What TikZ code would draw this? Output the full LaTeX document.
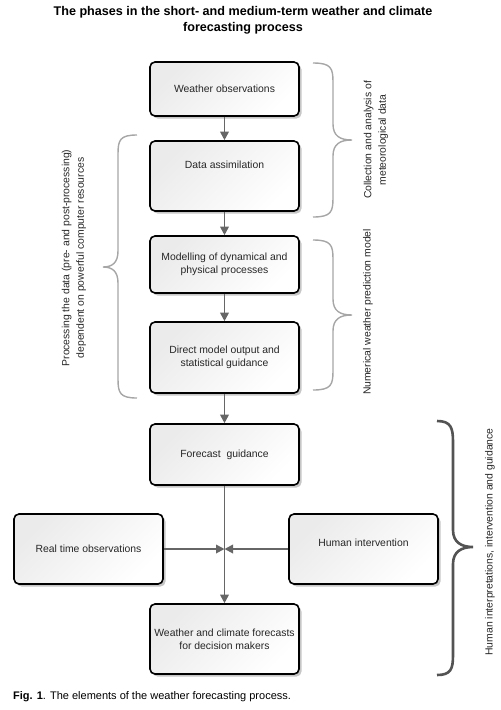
\documentclass[tikz,border=0pt]{standalone}
\usepackage{fontspec}
\setmainfont{Liberation Sans}
\usetikzlibrary{arrows.meta,shadows}
\begin{document}
\begin{tikzpicture}[x=1pt,y=-1pt,
  box/.style={draw=black, line width=1.6pt, rounded corners=5pt,
    top color=gray!16, bottom color=white, shading angle=45,
    minimum width=149pt, align=center, font=\fontsize{10.4}{13.2}\selectfont, text=black!85,
    drop shadow={shadow xshift=2.5pt, shadow yshift=-2.5pt, fill=gray!45, opacity=1}},
  txt/.style={align=center, font=\fontsize{10.4}{13.2}\selectfont, text=black!85},
  arr/.style={draw=gray!80!black, line width=1.8pt, -{Triangle[length=8.5pt,width=8.5pt]}},
  brace/.style={draw=gray!70, line width=1.4pt},
  bracethick/.style={draw=gray!65!black, line width=2.6pt},
  side/.style={rotate=90, align=center, font=\fontsize{10.4}{14.5}\selectfont, text=black!85}
]
\useasboundingbox (0,0) rectangle (501,710);

% title
\node[align=center, font=\bfseries\fontsize{12.6}{16}\selectfont] (title) at (243,20)
  {The phases in the short- and medium-term weather and climate\\forecasting process};

% boxes
\node[box, minimum height=54pt] (obs) at (224.5,89) {Weather observations};
\node[box, minimum height=70pt] (assim) at (224.5,176) {};
\node[txt] (assimtxt) at ([yshift=11pt]assim.center) {Data assimilation};
\node[box, minimum height=57pt] (model) at (224.5,264.5) {Modelling of dynamical and\\physical processes};
\node[box, minimum height=71pt] (direct) at (224.5,357.5) {Direct model output and\\statistical guidance};
\node[box, minimum height=61pt] (guide) at (224.5,454.5) {Forecast\ \ guidance};
\node[box, minimum height=70pt] (real) at (88.5,549) {Real time observations};
\node[box, minimum height=70pt] (human) at (363.5,549) {};
\node[txt] (humantxt) at ([yshift=6pt]human.center) {Human intervention};
\node[box, minimum height=70pt] (final) at (224.5,639) {Weather and climate forecasts\\for decision makers};
\coordinate (j) at (224.5,549);

% connectors
\draw[arr] (obs) -- (assim);
\draw[arr] (assim) -- (model);
\draw[arr] (model) -- (direct);
\draw[arr] (direct) -- (guide);
\draw[arr] (guide) -- (final);
\draw[arr] (real) -- (j);
\draw[arr] (human) -- (j);

% braces
\draw[brace] (313,63) .. controls (331,63) and (333,68) .. (333,82) -- (333,124)
  .. controls (333,136) and (340,140) .. (352,140)
  .. controls (340,140) and (333,144) .. (333,156) -- (333,198)
  .. controls (333,212) and (331,217) .. (313,217);
\draw[brace] (313,240) .. controls (331,240) and (333,245) .. (333,259) -- (333,299)
  .. controls (333,311) and (340,315) .. (352,315)
  .. controls (340,315) and (333,319) .. (333,331) -- (333,371)
  .. controls (333,385) and (331,390) .. (313,390);
\draw[brace] (137,135) .. controls (120,135) and (118,140) .. (118,154) -- (118,251)
  .. controls (118,263) and (112,267) .. (103,267)
  .. controls (112,267) and (118,271) .. (118,283) -- (118,379)
  .. controls (118,393) and (120,398) .. (137,398);
\draw[bracethick] (437,421) .. controls (451,421) and (453,428) .. (453,442) -- (453,530)
  .. controls (453,542) and (461,547) .. (473,547)
  .. controls (461,547) and (453,552) .. (453,564) -- (453,655)
  .. controls (453,669) and (451,675) .. (437,675);

% brace labels
\node[side] (lab1) at (376,140) {Collection and analysis of\\meteorological data};
\node[side] (lab2) at (368,312) {Numerical weather prediction model};
\node[side] (lab3) at (74,258) {Processing the data (pre- and post-processing)\\dependent on powerful computer resources};
\node[side] (lab4) at (490,542) {Human interpretations, intervention and guidance};

% caption
\node[anchor=west, font=\fontsize{11}{13}\selectfont, inner sep=0pt] (cap) at (13,697)
  {\textbf{Fig. 1}. The elements of the weather forecasting process.};
\end{tikzpicture}
\end{document}
